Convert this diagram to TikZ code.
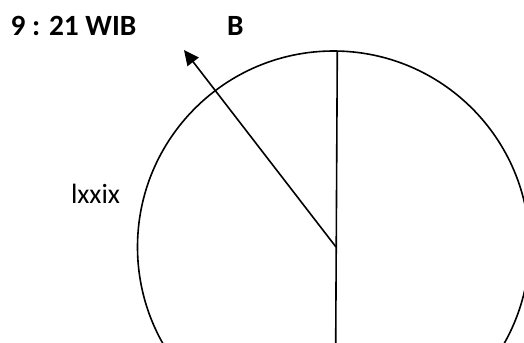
\documentclass[tikz,border=0pt]{standalone}
\usepackage{fontspec}
\setmainfont{Carlito}
\usetikzlibrary{arrows.meta}
\begin{document}
\begin{tikzpicture}[x=1bp,y=-1bp,
  lbl/.style={inner sep=0pt,outer sep=0pt,anchor=base west,font=\fontsize{28}{30}\selectfont},
  bl/.style={lbl,font=\fontsize{29.5}{32}\selectfont\bfseries},
  ln/.style={line width=1.6bp,black}]
\useasboundingbox (0,0) rectangle (524,342);
\clip (0,0) rectangle (524,342);
\node[bl] (time) at (10.5,35) {9 : 21 WIB};
\node[bl] (b) at (227,35) {B};
\node[lbl] (lx) at (71,203) {lxxix};
\node[draw,ln,circle,minimum size=392bp,inner sep=0pt] (c) at (333.5,247) {};
\coordinate (top) at (337.3,51);
\coordinate (bot) at (335.7,345);
\coordinate (mid) at (336,247);
\coordinate (tip) at (184,50);
\draw[ln] (top) -- (bot);
\draw[ln,-{Triangle[length=15bp,width=14bp]}] (mid) -- (tip);
\end{tikzpicture}
\end{document}
